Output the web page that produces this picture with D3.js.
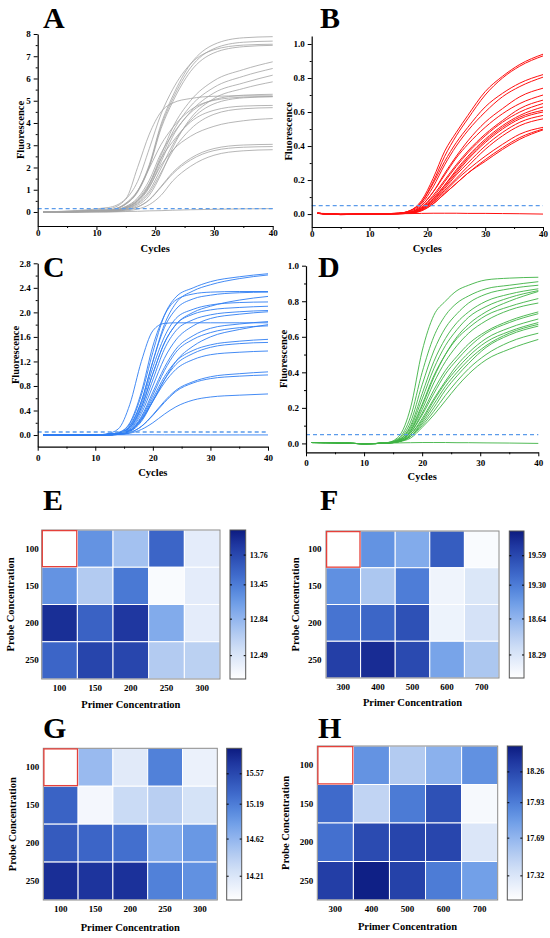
<!DOCTYPE html>
<html><head><meta charset="utf-8">
<script src="https://cdn.jsdelivr.net/npm/d3@7"></script>
<style>
body{margin:0;background:#fff}
svg{display:block}
text{font-family:"Liberation Serif","Times New Roman",serif;font-weight:bold;fill:#000}
</style>
</head><body>
<svg id="c" width="550" height="938"></svg>
<script>
// ---------------- DATA ----------------
const cyclesA = [1,12,15,17,19,21,23,26,30,35,40];
const curvesA = [
[0,0.09,0.37,0.94,2.13,3.95,5.22,6.64,7.53,7.83,7.88],
[0,0.08,0.36,0.92,2.07,3.85,5.09,6.48,7.34,7.63,7.68],
[0,0.14,0.57,1.37,2.85,4.40,5.52,6.65,7.29,7.50,7.54],
[0,0.08,0.35,0.89,2.02,3.75,4.96,6.31,7.15,7.43,7.49],
[0,0.05,0.20,0.52,1.25,2.55,3.80,5.00,5.90,6.40,6.75],
[0,0.05,0.19,0.50,1.20,2.40,3.60,4.75,5.60,6.10,6.45],
[0,0.04,0.17,0.45,1.10,2.25,3.40,4.50,5.35,5.80,6.15],
[0,0.03,0.12,0.30,0.75,1.70,2.90,4.20,5.10,5.55,5.85],
[0,0.20,0.60,2.00,3.50,4.50,4.90,5.10,5.20,5.22,5.22],
[0,0.06,0.25,0.63,1.43,2.65,3.50,4.46,5.05,5.25,5.29],
[0,0.04,0.15,0.40,0.95,1.97,3.03,4.11,4.86,5.13,5.18],
[0,0.09,0.40,0.95,1.97,3.03,3.80,4.58,5.02,5.16,5.19],
[0,0.05,0.23,0.57,1.29,2.40,3.17,4.04,4.57,4.76,4.79],
[0,0.03,0.14,0.36,0.86,1.78,2.74,3.72,4.39,4.64,4.69],
[0,0.05,0.20,0.50,1.13,2.10,2.78,3.40,3.85,4.10,4.20],
[0,0.02,0.09,0.23,0.56,1.15,1.78,2.41,2.85,3.01,3.04],
[0,0.02,0.09,0.22,0.54,1.12,1.72,2.33,2.76,2.91,2.94],
[0,0.01,0.05,0.13,0.33,0.75,1.40,2.05,2.55,2.75,2.80]
];
const ntcA = [0,0,0.02,0.03,0.05,0.06,0.08,0.10,0.12,0.14,0.15];

const cyclesB = [1,5,10,15,17,19,21,23,25,27,30,33,36,40];
const curvesB = [
[0.005,-0.002,0,0.005,0.02,0.08,0.21,0.37,0.48,0.58,0.72,0.81,0.88,0.94],
[0.005,-0.002,0,0.005,0.02,0.07,0.19,0.34,0.46,0.56,0.70,0.80,0.87,0.93],
[0.005,-0.002,0,0.005,0.02,0.07,0.18,0.31,0.42,0.51,0.63,0.71,0.77,0.82],
[0.005,-0.002,0,0.004,0.015,0.06,0.16,0.29,0.40,0.49,0.60,0.69,0.75,0.805],
[0.004,-0.003,0,0.004,0.01,0.05,0.13,0.24,0.34,0.43,0.54,0.62,0.69,0.74],
[0.004,-0.003,0,0.004,0.01,0.05,0.13,0.23,0.33,0.41,0.51,0.59,0.65,0.70],
[0.005,-0.002,0,0.004,0.01,0.04,0.11,0.20,0.29,0.37,0.47,0.55,0.62,0.67],
[0.005,-0.002,0,0.003,0.01,0.04,0.10,0.19,0.28,0.36,0.46,0.54,0.60,0.65],
[0.004,-0.002,0,0.003,0.008,0.035,0.09,0.17,0.26,0.34,0.44,0.52,0.58,0.63],
[0.004,-0.002,0,0.003,0.008,0.03,0.09,0.17,0.25,0.33,0.43,0.51,0.57,0.61],
[0.005,-0.003,0,0.003,0.008,0.03,0.08,0.16,0.24,0.32,0.42,0.50,0.56,0.60],
[0.005,-0.003,0,0.003,0.007,0.03,0.08,0.15,0.23,0.30,0.40,0.48,0.54,0.58],
[0.004,-0.002,0,0.002,0.006,0.025,0.07,0.14,0.21,0.28,0.38,0.46,0.52,0.56],
[0.004,-0.002,0,0.002,0.006,0.025,0.07,0.13,0.20,0.26,0.34,0.41,0.47,0.51],
[0.005,-0.002,0,0.002,0.005,0.02,0.06,0.12,0.18,0.24,0.32,0.39,0.45,0.50],
[0.005,-0.002,0,0.002,0.005,0.02,0.06,0.12,0.18,0.24,0.31,0.38,0.44,0.495]
];
const ntcB = [0.005,0.0,-0.002,0.002,0.003,0.004,0.005,0.005,0.005,0.004,0.004,0.003,0.002,0.0];

const cyclesC = [1,10,12,14,16,18,20,22,24,27,30,35,40];
const curvesC = [
[0,0,0.01,0.04,0.18,0.65,1.35,1.95,2.25,2.40,2.50,2.58,2.63],
[0,0,0.01,0.03,0.15,0.55,1.20,1.80,2.15,2.35,2.45,2.55,2.61],
[0,0,0.01,0.04,0.20,0.70,1.45,1.95,2.20,2.30,2.33,2.34,2.34],
[0,0,0.01,0.03,0.15,0.55,1.20,1.75,2.05,2.22,2.28,2.32,2.33],
[0,0,0.01,0.03,0.12,0.45,1.00,1.50,1.80,2.00,2.10,2.20,2.26],
[0,0,0.01,0.03,0.13,0.50,1.10,1.60,1.90,2.05,2.12,2.16,2.17],
[0,0,0.01,0.03,0.12,0.45,1.00,1.50,1.80,1.97,2.04,2.08,2.10],
[0,0,0.01,0.02,0.10,0.40,0.90,1.40,1.70,1.88,1.96,2.01,2.03],
[0,0,0.01,0.02,0.09,0.35,0.80,1.25,1.55,1.78,1.90,1.97,2.01],
[0,0,0.02,0.10,0.50,1.20,1.70,1.82,1.83,1.83,1.83,1.83,1.83],
[0,0,0.01,0.02,0.08,0.30,0.70,1.10,1.40,1.62,1.74,1.81,1.85],
[0,0,0,0.02,0.06,0.22,0.55,0.90,1.20,1.45,1.60,1.72,1.80],
[0,0,0,0.02,0.07,0.28,0.65,1.05,1.35,1.56,1.67,1.75,1.78],
[0,0,0,0.02,0.07,0.26,0.60,0.95,1.20,1.38,1.47,1.53,1.56],
[0,0,0,0.02,0.06,0.24,0.56,0.90,1.15,1.33,1.43,1.49,1.51],
[0,0,0,0.02,0.07,0.25,0.55,0.85,1.07,1.23,1.31,1.35,1.37],
[0,0,0,0.01,0.04,0.14,0.33,0.55,0.73,0.87,0.95,1.00,1.03],
[0,0,0,0.01,0.04,0.14,0.32,0.53,0.71,0.85,0.92,0.96,0.98],
[0,0,0,0.01,0.03,0.09,0.20,0.34,0.46,0.57,0.62,0.65,0.67]
];
const ntcC = [0.005,0.005,0.005,0.004,0.004,0.004,0.004,0.003,0.003,0.003,0.002,0.002,0.002];

const cyclesD = [1,5,10,14,16,18,20,22,24,26,28,31,35,40];
const curvesD = [
[0.005,0.004,-0.002,0.005,0.04,0.20,0.52,0.72,0.80,0.86,0.89,0.92,0.93,0.935],
[0.005,0.004,-0.002,0.004,0.03,0.15,0.40,0.60,0.72,0.79,0.83,0.87,0.89,0.91],
[0.005,0.004,-0.002,0.004,0.025,0.12,0.33,0.52,0.65,0.73,0.79,0.84,0.87,0.89],
[0.005,0.004,-0.002,0.004,0.02,0.10,0.28,0.46,0.59,0.68,0.74,0.80,0.84,0.87],
[0.005,0.004,-0.002,0.003,0.02,0.09,0.25,0.42,0.55,0.64,0.71,0.77,0.82,0.86],
[0.005,0.004,-0.002,0.003,0.015,0.07,0.21,0.37,0.50,0.60,0.67,0.74,0.80,0.855],
[0.005,0.004,-0.002,0.003,0.02,0.08,0.22,0.38,0.50,0.59,0.65,0.72,0.77,0.815],
[0.005,0.004,-0.002,0.003,0.015,0.07,0.19,0.34,0.46,0.55,0.62,0.69,0.75,0.79],
[0.005,0.004,-0.002,0.003,0.015,0.06,0.17,0.30,0.41,0.49,0.56,0.63,0.69,0.74],
[0.005,0.004,-0.002,0.003,0.015,0.06,0.16,0.28,0.39,0.47,0.54,0.62,0.68,0.73],
[0.005,0.004,-0.002,0.002,0.01,0.05,0.14,0.25,0.35,0.44,0.51,0.59,0.65,0.70],
[0.005,0.004,-0.002,0.002,0.01,0.05,0.13,0.24,0.34,0.42,0.49,0.57,0.63,0.68],
[0.005,0.004,-0.002,0.002,0.01,0.04,0.12,0.22,0.32,0.40,0.47,0.55,0.62,0.67],
[0.005,0.004,-0.002,0.002,0.01,0.04,0.11,0.20,0.30,0.38,0.45,0.54,0.61,0.66],
[0.005,0.004,-0.002,0.002,0.01,0.04,0.10,0.18,0.27,0.35,0.42,0.50,0.57,0.62],
[0.005,0.004,-0.002,0.002,0.01,0.03,0.09,0.16,0.24,0.32,0.39,0.47,0.53,0.585]
];
const ntcD = [0.005,0.004,-0.002,0.002,0.003,0.004,0.005,0.005,0.005,0.004,0.004,0.003,0.002,0.0];

const xTicks = [0,10,20,30,40];
const xMinor = [5,15,25,35];
const yTicksA = [0,1,2,3,4,5,6,7,8];
const yTicksB = [0,0.2,0.4,0.6,0.8,1.0];
const yTicksC = [0,0.4,0.8,1.2,1.6,2.0,2.4,2.8];
const yTicksD = [0,0.2,0.4,0.6,0.8,1.0];
const thresholds = {A:0.15, B:0.05, C:0.05, D:0.05};

const probeRows = ["100","150","200","250"];
const primerEG = ["100","150","200","250","300"];
const primerFH = ["300","400","500","600","700"];
const valuesE = [
[12.26,13.22,12.76,13.58,12.43],
[13.22,12.69,13.47,12.30,12.43],
[13.91,13.60,13.86,12.96,12.43],
[13.58,13.78,13.77,12.69,12.65]];
const cbarE = [12.26,12.49,12.84,13.45,13.76,14.02];
const valuesF = [
[18.06,19.06,18.77,19.47,18.10],
[19.09,18.52,19.29,18.16,18.28],
[19.34,19.42,19.54,18.17,18.32],
[19.64,19.74,19.58,18.86,18.52]];
const cbarF = [18.06,18.29,18.64,19.30,19.59,19.83];
const valuesG = [
[13.94,14.58,14.16,15.15,14.09],
[15.37,14.02,14.31,14.41,14.24],
[15.43,15.35,15.28,14.73,14.93],
[15.75,15.71,15.73,15.15,15.00]];
const cbarG = [13.94,14.21,14.62,15.19,15.57,15.88];
const valuesH = [
[17.08,17.84,17.53,17.71,17.85],
[18.04,17.46,17.94,18.20,17.14],
[18.00,18.24,18.28,18.27,17.31],
[18.32,18.50,18.30,17.93,17.79]];
const cbarH = [17.08,17.32,17.69,17.93,18.26,18.53];

// ---------------- STYLE / LAYOUT ----------------
const cbarPos = [0,0.16,0.405,0.635,0.835,1];
const cmap = d3.scaleLinear()
  .domain([0,0.1,0.2,0.3,0.4,0.5,0.6,0.7,0.8,0.9,1])
  .range(["#ffffff","#e8effb","#d0dff6","#b3cbf1","#93b6ee","#72a0e8","#5586dc","#3f6acb","#2e51b6","#1f37a0","#0c1b80"])
  .interpolate(d3.interpolateRgb);

const svg = d3.select("#c");
const defs = svg.append("defs");

function styleAxis(sel, fs){
  sel.selectAll("text").style("font-size", fs+"px").style("font-weight","bold")
     .style("font-family",'"Liberation Serif","Times New Roman",serif').attr("fill","#000");
  sel.selectAll("line").attr("stroke","#000").attr("stroke-width",1);
  sel.select(".domain").attr("stroke","#000").attr("stroke-width",1.2);
}

function lineChart(o){
  const g = svg.append("g");
  const x = d3.scaleLinear().domain([0,40]).range([o.x0,o.x1]);
  const y = d3.scaleLinear().domain(o.yDomain).range([o.yB,o.yT]);
  const line = d3.line().x(d=>x(d[0])).y(d=>y(d[1])).curve(d3.curveMonotoneX);
  const series = o.curves.concat([o.ntc]).map(c => o.cycles.map((cy,i)=>[cy,c[i]]));
  g.append("g").selectAll("path").data(series).join("path")
    .attr("d", line).attr("fill","none").attr("stroke", o.color).attr("stroke-width", o.lw);
  g.append("line").attr("x1",x(0)).attr("x2",x(40)).attr("y1",y(o.th)).attr("y2",y(o.th))
    .attr("stroke","#5b9bea").attr("stroke-width",1.3).attr("stroke-dasharray","4,3");
  // axes
  const ya = g.append("g").attr("transform",`translate(${o.x0},0)`)
    .call(d3.axisLeft(y).tickValues(o.yTicks).tickSize(4).tickSizeOuter(0).tickPadding(3).tickFormat(o.fmt));
  styleAxis(ya, 9);
  const ym = g.append("g").attr("transform",`translate(${o.x0},0)`)
    .call(d3.axisLeft(y).tickValues(o.yTicks.slice(0,-1).map((t,i)=>(t+o.yTicks[i+1])/2)).tickSize(2).tickFormat(""));
  ym.select(".domain").remove(); styleAxis(ym, 9);
  const xa = g.append("g").attr("transform",`translate(0,${o.yB})`)
    .call(d3.axisBottom(x).tickValues(xTicks).tickSize(4).tickSizeOuter(0).tickPadding(o.xPad).tickFormat(d3.format("d")));
  styleAxis(xa, 9);
  const xm = g.append("g").attr("transform",`translate(0,${o.yB})`)
    .call(d3.axisBottom(x).tickValues(xMinor).tickSize(2).tickFormat(""));
  xm.select(".domain").remove(); styleAxis(xm, 9);
  // titles
  g.append("text").attr("x",(o.x0+o.x1)/2).attr("y",o.xLabY).attr("text-anchor","middle")
    .attr("dy","0.35em").style("font-size","10.5px").text("Cycles");
  g.append("text").attr("transform",`translate(${o.yLabX},${(o.yB+o.yT)/2}) rotate(-90)`)
    .attr("text-anchor","middle").attr("dy","0.35em").style("font-size","10.5px").text("Fluorescence");
  g.append("text").attr("x",o.lx).attr("y",o.ly).style("font-size","30px").text(o.label);
}

function heat(o){
  const g = svg.append("g");
  const x = d3.scaleBand().domain(o.cols).range([o.x0,o.x1]);
  const y = d3.scaleBand().domain(probeRows).range([o.y0,o.y1]);
  const pos = d3.scaleLinear().domain(o.cbar).range(cbarPos).clamp(true);
  const cells = [];
  o.values.forEach((row,i)=>row.forEach((v,j)=>cells.push({r:probeRows[i], c:o.cols[j], v})));
  g.append("g").selectAll("rect").data(cells).join("rect")
    .attr("x",d=>x(d.c)).attr("y",d=>y(d.r)).attr("width",x.bandwidth()).attr("height",y.bandwidth())
    .attr("fill",d=>cmap(pos(d.v))).attr("stroke","#fff").attr("stroke-width",1);
  g.append("rect").attr("x",o.x0).attr("y",o.y0).attr("width",o.x1-o.x0).attr("height",o.y1-o.y0)
    .attr("fill","none").attr("stroke","#8a8a8a").attr("stroke-width",1);
  g.append("rect").attr("x",x(o.cols[0])+0.6).attr("y",y(probeRows[0])+0.6)
    .attr("width",x.bandwidth()-1.2).attr("height",y.bandwidth()-1.2)
    .attr("fill","none").attr("stroke","#e5403a").attr("stroke-width",1.3);
  // axes
  const xa = g.append("g").attr("transform",`translate(0,${o.y1})`)
    .call(d3.axisBottom(x).tickSize(0).tickPadding(6));
  xa.select(".domain").remove(); styleAxis(xa, 9);
  const ya = g.append("g").attr("transform",`translate(${o.x0},0)`)
    .call(d3.axisLeft(y).tickSize(0).tickPadding(o.rowPad));
  ya.select(".domain").remove(); styleAxis(ya, 9);
  g.append("text").attr("x",(o.x0+o.x1)/2).attr("y",o.titleY).attr("text-anchor","middle")
    .attr("dy","0.35em").style("font-size","10.5px").text("Primer Concentration");
  g.append("text").attr("transform",`translate(${o.probeX},${(o.y0+o.y1)/2}) rotate(-90)`)
    .attr("text-anchor","middle").attr("dy","0.35em").style("font-size","10.5px").text("Probe Concentration");
  g.append("text").attr("x",o.lx).attr("y",o.ly).style("font-size","30px").text(o.label);
  // colorbar
  const gid = "grad"+o.label;
  const grad = defs.append("linearGradient").attr("id",gid).attr("x1",0).attr("y1",0).attr("x2",0).attr("y2",1);
  grad.selectAll("stop").data(d3.range(0,1.0001,0.05)).join("stop")
    .attr("offset",d=>d).attr("stop-color",d=>cmap(1-d));
  g.append("rect").attr("x",o.cx0).attr("y",o.y0).attr("width",o.cx1-o.cx0).attr("height",o.y1-o.y0)
    .attr("fill",`url(#${gid})`).attr("stroke","#555").attr("stroke-width",1);
  const cy = d3.scaleLinear().domain(o.cbar).range(cbarPos.map(f=>o.y1-f*(o.y1-o.y0)));
  const ticks = o.cbar.slice(1,5);
  const ra = g.append("g").attr("transform",`translate(${o.cx1},0)`)
    .call(d3.axisRight(cy).tickValues(ticks).tickSize(-2).tickPadding(4).tickFormat(d3.format(".2f")));
  ra.select(".domain").remove(); styleAxis(ra, 8);
  const la = g.append("g").attr("transform",`translate(${o.cx0},0)`)
    .call(d3.axisLeft(cy).tickValues(ticks).tickSize(-2).tickFormat(""));
  la.select(".domain").remove(); styleAxis(la, 8);
}

const f1 = d3.format("d"), f2 = d3.format(".1f");
lineChart({label:"A", lx:43, ly:28, x0:37.7, x1:272.7, yT:34, yB:226, yDomain:[-0.63,8],
  yTicks:yTicksA, fmt:f1, cycles:cyclesA, curves:curvesA, ntc:ntcA, color:"#a3a3a3", lw:0.8,
  th:thresholds.A, xPad:0, xLabY:248, yLabX:20});
lineChart({label:"B", lx:320, ly:28, x0:311.7, x1:543, yT:36, yB:227, yDomain:[-0.076,1.047],
  yTicks:yTicksB, fmt:f2, cycles:cyclesB, curves:curvesB, ntc:ntcB, color:"#ff1010", lw:1,
  th:thresholds.B, xPad:0, xLabY:248, yLabX:288.3});
lineChart({label:"C", lx:43, ly:277, x0:37.7, x1:268, yT:263.3, yB:446.7, yDomain:[-0.19,2.8],
  yTicks:yTicksC, fmt:f2, cycles:cyclesC, curves:curvesC, ntc:ntcC, color:"#2f7ef3", lw:0.9,
  th:thresholds.C, xPad:3.5, xLabY:472.7, yLabX:15});
lineChart({label:"D", lx:318, ly:277, x0:306, x1:538.3, yT:265.7, yB:452.3, yDomain:[-0.05,1.0],
  yTicks:yTicksD, fmt:f2, cycles:cyclesD, curves:curvesD, ntc:ntcD, color:"#3db243", lw:0.9,
  th:thresholds.D, xPad:3.5, xLabY:476.7, yLabX:283.3});

heat({label:"E", lx:43, ly:510, x0:41.7, x1:220, y0:530, y1:679, cx0:230, cx1:245.7,
  cols:primerEG, values:valuesE, cbar:cbarE, rowPad:3, titleY:704.3, probeX:10});
heat({label:"F", lx:320, ly:510, x0:326, x1:499, y0:531, y1:678, cx0:509.3, cx1:524,
  cols:primerFH, values:valuesF, cbar:cbarF, rowPad:4.5, titleY:702.7, probeX:295.7});
heat({label:"G", lx:43, ly:738, x0:43.3, x1:217.3, y0:748.3, y1:900, cx0:226.7, cx1:241.7,
  cols:primerEG, values:valuesG, cbar:cbarG, rowPad:4, titleY:927, probeX:12.7});
heat({label:"H", lx:318, ly:738, x0:317.3, x1:497.7, y0:746, y1:900, cx0:507.3, cx1:522.3,
  cols:primerFH, values:valuesH, cbar:cbarH, rowPad:4, titleY:926.7, probeX:285});
</script>
</body></html>
